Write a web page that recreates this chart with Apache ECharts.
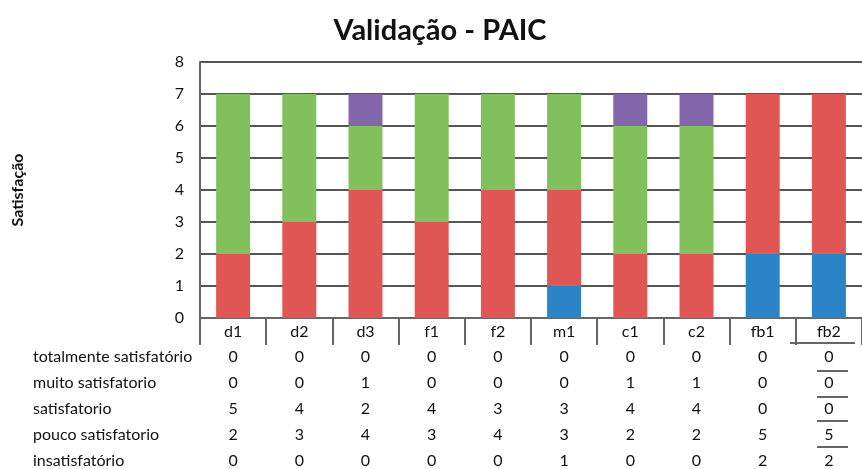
<!DOCTYPE html>
<html>
<head>
<meta charset="utf-8">
<script src="https://cdn.jsdelivr.net/npm/echarts@6/dist/echarts.min.js"></script>
<style>
  html, body { margin: 0; padding: 0; background: #fff; }
  #chart { width: 862px; height: 469px; }
</style>
</head>
<body>
<div id="chart"></div>
<script>
// Categories and counts per satisfaction level
const categories = ['d1', 'd2', 'd3', 'f1', 'f2', 'm1', 'c1', 'c2', 'fb1', 'fb2'];
const insatisfatorio = [0, 0, 0, 0, 0, 1, 0, 0, 2, 2];
const poucoSatisfatorio = [2, 3, 4, 3, 4, 3, 2, 2, 5, 5];
const satisfatorio = [5, 4, 2, 4, 3, 3, 4, 4, 0, 0];
const muitoSatisfatorio = [0, 0, 1, 0, 0, 0, 1, 1, 0, 0];
const totalmenteSatisfatorio = [0, 0, 0, 0, 0, 0, 0, 0, 0, 0];
const yTicks = [0, 1, 2, 3, 4, 5, 6, 7, 8];

// Stacking order from bottom to top
const levels = [
  { name: 'insatisfatório', data: insatisfatorio, color: '#2b84c6' },
  { name: 'pouco satisfatorio', data: poucoSatisfatorio, color: '#e05654' },
  { name: 'satisfatorio', data: satisfatorio, color: '#82c05e' },
  { name: 'muito satisfatorio', data: muitoSatisfatorio, color: '#8466ad' },
  { name: 'totalmente satisfatório', data: totalmenteSatisfatorio, color: '#4bacc6' }
];

// Data table rows below the axis, in display order
const tableRows = [
  { name: 'totalmente satisfatório', data: totalmenteSatisfatorio },
  { name: 'muito satisfatorio', data: muitoSatisfatorio },
  { name: 'satisfatorio', data: satisfatorio },
  { name: 'pouco satisfatorio', data: poucoSatisfatorio },
  { name: 'insatisfatório', data: insatisfatorio }
];

const FONT = 'Lato, "Open Sans", sans-serif';
const FS = 16;
const GRID_LEFT = 200, GRID_TOP = 62, GRID_H = 256, GRID_W = 666;
const axisY = GRID_TOP + GRID_H;
const rowCenters = [357, 383, 409, 435, 461];

const xAxes = [{
  type: 'category',
  data: categories,
  position: 'bottom',
  axisLine: { show: true, lineStyle: { color: '#666', width: 2 } },
  axisTick: { show: true, length: 27, lineStyle: { color: '#666', width: 2 } },
  axisLabel: { color: '#111', fontSize: FS, fontFamily: FONT, margin: 6 },
  splitLine: { show: false }
}];
tableRows.forEach((row, i) => {
  xAxes.push({
    type: 'category',
    data: categories,
    position: 'bottom',
    offset: rowCenters[i] - axisY,
    axisLine: { show: false },
    axisTick: { show: false },
    axisLabel: {
      margin: 0,
      verticalAlign: 'middle',
      color: '#111',
      fontSize: FS,
      fontFamily: FONT,
      formatter: (v, idx) => String(row.data[idx])
    },
    name: row.name,
    nameLocation: 'start',
    nameGap: GRID_LEFT - 33,
    nameTextStyle: {
      align: 'left',
      verticalAlign: 'middle',
      color: '#111',
      fontSize: FS,
      fontFamily: FONT
    }
  });
});

const chart = echarts.init(document.getElementById('chart'));
chart.setOption({
  animation: false,
  backgroundColor: '#fff',
  title: {
    text: 'Validação - PAIC',
    left: 435,
    textAlign: 'center',
    top: 11,
    textStyle: { fontFamily: FONT, fontWeight: 'bold', fontSize: 29, color: '#111' }
  },
  grid: { left: GRID_LEFT, top: GRID_TOP, width: GRID_W, height: GRID_H },
  xAxis: xAxes,
  yAxis: {
    type: 'value',
    min: yTicks[0],
    max: yTicks[yTicks.length - 1],
    interval: 1,
    name: 'Satisfação',
    nameLocation: 'middle',
    nameGap: 174,
    nameRotate: 90,
    nameTextStyle: { fontFamily: FONT, fontWeight: 'bold', fontSize: 16, color: '#111' },
    axisLine: { show: true, lineStyle: { color: '#666', width: 2 } },
    axisTick: { show: false },
    axisLabel: { color: '#111', fontSize: FS, fontFamily: FONT, margin: 16 },
    splitLine: { show: true, lineStyle: { color: '#555', width: 2 } }
  },
  series: levels.map(l => ({
    name: l.name,
    type: 'bar',
    stack: 'total',
    xAxisIndex: 0,
    barWidth: 34,
    data: l.data,
    itemStyle: { color: l.color }
  })),
  graphic: [
    // Underlines in the last table column
    { type: 'line', shape: { x1: 790, y1: 343, x2: 855, y2: 343 }, style: { stroke: '#333', lineWidth: 1.5 } },
    { type: 'line', shape: { x1: 817, y1: 371, x2: 848, y2: 371 }, style: { stroke: '#333', lineWidth: 1.5 } },
    { type: 'line', shape: { x1: 817, y1: 397, x2: 848, y2: 397 }, style: { stroke: '#333', lineWidth: 1.5 } },
    { type: 'line', shape: { x1: 817, y1: 421, x2: 848, y2: 421 }, style: { stroke: '#333', lineWidth: 1.5 } },
    { type: 'line', shape: { x1: 817, y1: 447, x2: 848, y2: 447 }, style: { stroke: '#333', lineWidth: 1.5 } }
  ]
});
</script>
</body>
</html>
